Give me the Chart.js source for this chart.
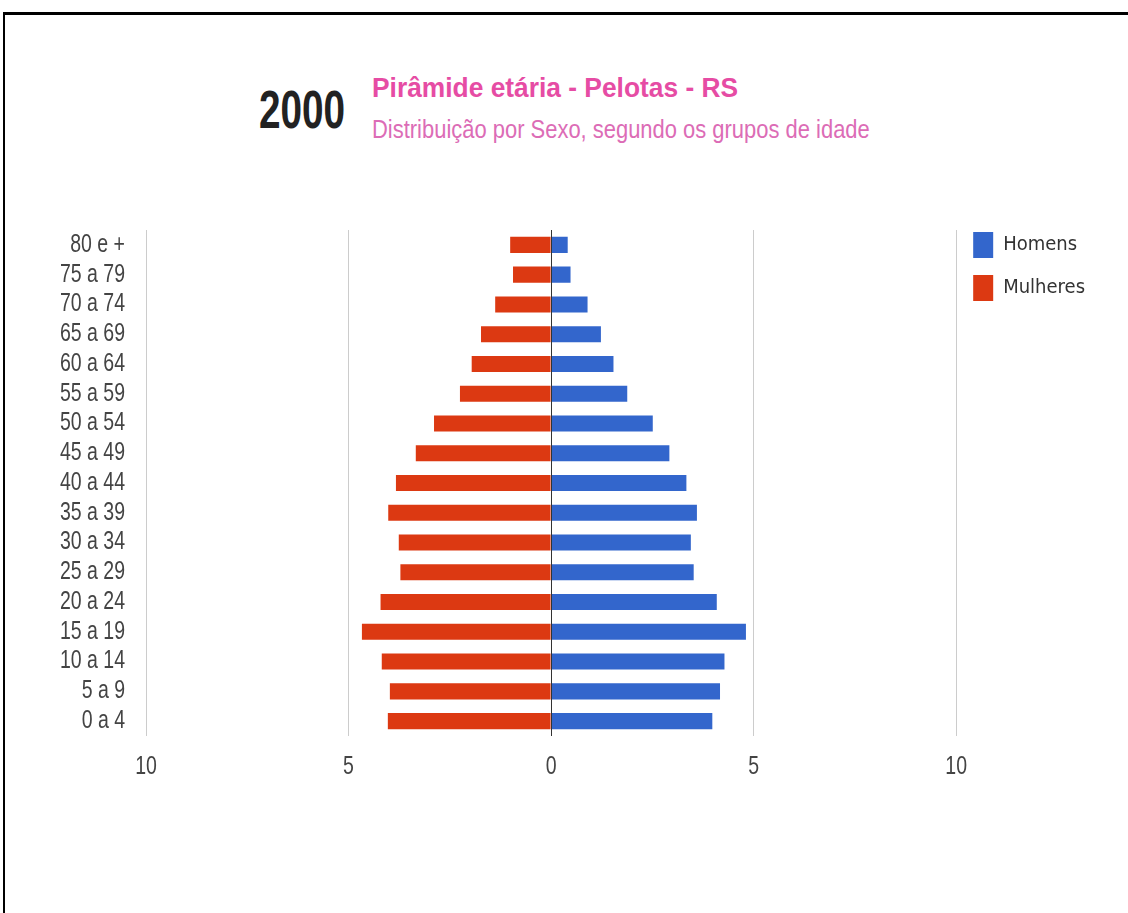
<!DOCTYPE html>
<html>
<head>
<meta charset="utf-8">
<title>Pirâmide etária - Pelotas - RS</title>
<script src="https://cdn.jsdelivr.net/npm/chart.js@4.4.1/dist/chart.umd.min.js"></script>
<style>
    html, body { margin: 0; padding: 0; background: #fff; overflow: hidden; }
    body { width: 1128px; height: 913px; position: relative; }
    #moldura { position: absolute; left: 3px; top: 12px; width: 1200px; height: 1000px;
               border-top: 3px solid #000; border-left: 2px solid #000; }
    .txt { position: absolute; white-space: nowrap; line-height: 1; transform-origin: 0 0;
           font-family: 'Liberation Sans', Arial, sans-serif; }
    #ano { left: 259px; top: 82px; font-size: 54px; font-weight: bold; color: #222; }
    #titulo { left: 372px; top: 75px; font-size: 27px; font-weight: bold; color: #e64ca4; }
    #subtitulo { left: 372px; top: 116px; font-size: 26px; color: #dc6cb6; }
    #area { position: absolute; left: 0; top: 215px; width: 1128px; height: 698px; }
</style>
</head>
<body>
<div id="moldura"></div>
<div class="txt" id="ano">2000</div>
<div class="txt" id="titulo">Pirâmide etária - Pelotas - RS</div>
<div class="txt" id="subtitulo">Distribuição por Sexo, segundo os grupos de idade</div>
<div id="area"><canvas id="piramide"></canvas></div>

<script>
// faixas etárias, de cima para baixo
const faixas = ['80 e +', '75 a 79', '70 a 74', '65 a 69', '60 a 64', '55 a 59', '50 a 54', '45 a 49',
    '40 a 44', '35 a 39', '30 a 34', '25 a 29', '20 a 24', '15 a 19', '10 a 14', '5 a 9', '0 a 4'];

// % da população
const homens = [0.41, 0.48, 0.90, 1.23, 1.54, 1.88, 2.51, 2.92, 3.34, 3.60, 3.45, 3.52, 4.09, 4.81, 4.28, 4.17, 3.98];
const mulheres = [1.01, 0.94, 1.38, 1.73, 1.96, 2.25, 2.89, 3.34, 3.83, 4.02, 3.76, 3.72, 4.21, 4.67, 4.18, 3.98, 4.03];

// marcas do eixo horizontal
const marcasX = [-10, -5, 0, 5, 10];

function ajustaLargura(id, largura) {
    const el = document.getElementById(id);
    el.style.transform = 'scaleX(' + (largura / el.offsetWidth) + ')';
}

// rótulos dos eixos em fonte estreita (tipo Arial Narrow)
const rotulosEixos = {
    id: 'rotulosEixos',
    afterDraw(chart) {
        const ctx = chart.ctx, sx = 0.78;
        const x = chart.scales.x, y = chart.scales.y;
        ctx.save();
        ctx.font = "25px 'Liberation Sans', Arial, sans-serif";
        ctx.fillStyle = '#444';
        ctx.scale(sx, 1);
        ctx.textBaseline = 'middle';
        ctx.textAlign = 'right';
        y.ticks.forEach((t, i) => {
            ctx.fillText(y.getLabelForValue(t.value), (y.right - 21) / sx, y.getPixelForTick(i));
        });
        ctx.textAlign = 'center';
        x.ticks.forEach((t, i) => {
            ctx.fillText(String(Math.abs(t.value)), x.getPixelForTick(i) / sx, chart.chartArea.bottom + 31);
        });
        ctx.restore();
    }
};

function montaGrafico() {
    ajustaLargura('ano', 86);
    ajustaLargura('titulo', 366);
    ajustaLargura('subtitulo', 498);

    new Chart(document.getElementById('piramide'), {
        type: 'bar',
        data: {
            labels: faixas,
            datasets: [{
                label: 'Homens',
                data: homens,
                backgroundColor: '#3366cc',
                categoryPercentage: 1,
                barPercentage: 0.54
            }, {
                label: 'Mulheres',
                data: mulheres.map(v => -v), // lado esquerdo
                backgroundColor: '#dc3912',
                categoryPercentage: 1,
                barPercentage: 0.54
            }]
        },
        options: {
            indexAxis: 'y',
            responsive: true,
            maintainAspectRatio: false,
            animation: false,
            layout: { padding: { top: 0, left: 0, right: 33, bottom: 177 } },
            scales: {
                x: {
                    stacked: true,
                    min: -10,
                    max: 10,
                    afterBuildTicks: s => { s.ticks = marcasX.map(v => ({ value: v })); },
                    ticks: { display: false },
                    grid: {
                        color: c => (c.tick && c.tick.value === 0) ? '#333' : '#ccc',
                        drawTicks: false,
                        z: 1
                    },
                    border: { display: false }
                },
                y: {
                    stacked: true,
                    ticks: { display: false, autoSkip: false },
                    grid: { display: false },
                    border: { display: false },
                    afterFit: s => { s.width = 146; s.paddingTop = 15; s.paddingBottom = 0; }
                }
            },
            plugins: {
                legend: {
                    position: 'right',
                    align: 'start',
                    labels: {
                        boxWidth: 20, boxHeight: 26, padding: 17, color: '#333',
                        font: { size: 20, family: "'DejaVu Sans Condensed', 'DejaVu Sans', sans-serif" }
                    }
                },
                tooltip: { enabled: false }
            }
        },
        plugins: [rotulosEixos]
    });
}

document.fonts.ready.then(montaGrafico);
</script>
</body>
</html>
